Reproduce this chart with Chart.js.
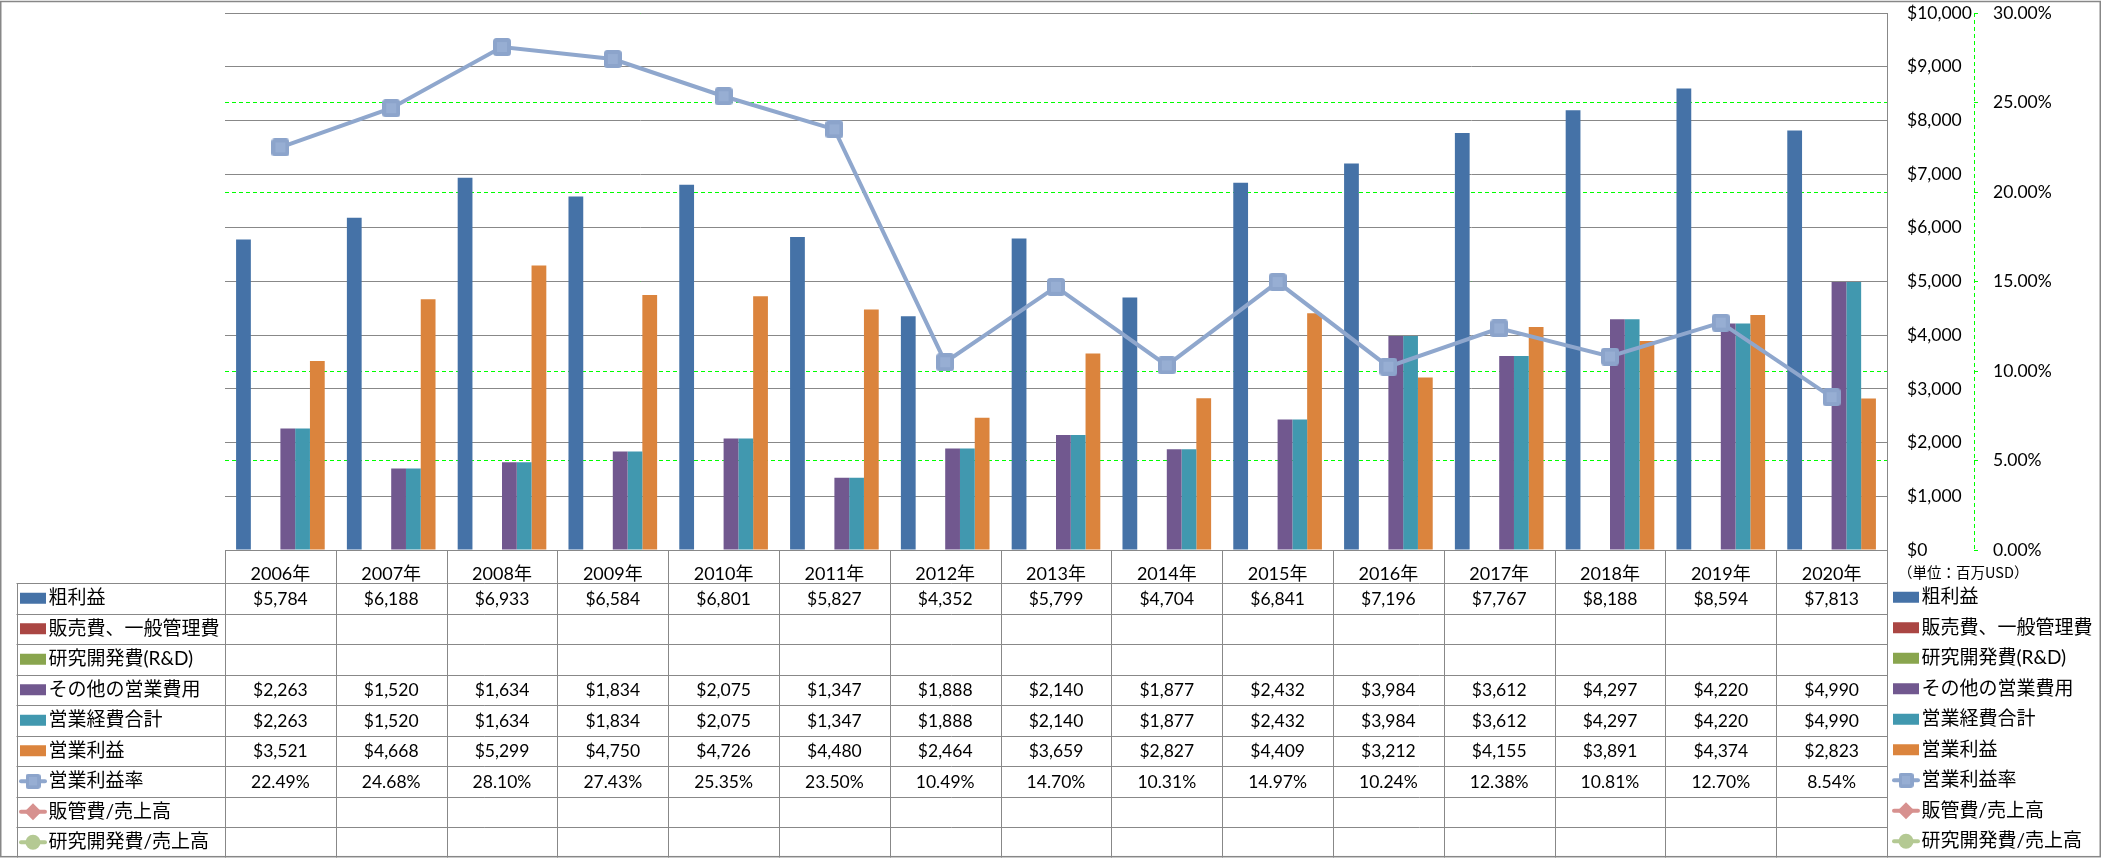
<!DOCTYPE html>
<html>
<head>
<meta charset="utf-8">
<script src="https://cdn.jsdelivr.net/npm/chart.js@4.4.1/dist/chart.umd.min.js"></script>
<style>
  html, body { margin: 0; padding: 0; background: #fff; }
  #wrap { width: 2101px; height: 858px; }
</style>
</head>
<body>
<div id="wrap"><canvas id="c" width="2101" height="858"></canvas></div>
<script>
// ---- data ----
const categories = ['2006年','2007年','2008年','2009年','2010年','2011年','2012年','2013年','2014年','2015年','2016年','2017年','2018年','2019年','2020年'];
const grossProfit = [5784, 6188, 6933, 6584, 6801, 5827, 4352, 5799, 4704, 6841, 7196, 7767, 8188, 8594, 7813];
const sgaExpense = [];
const rndExpense = [];
const otherOpex = [2263, 1520, 1634, 1834, 2075, 1347, 1888, 2140, 1877, 2432, 3984, 3612, 4297, 4220, 4990];
const totalOpex = [2263, 1520, 1634, 1834, 2075, 1347, 1888, 2140, 1877, 2432, 3984, 3612, 4297, 4220, 4990];
const operatingIncome = [3521, 4668, 5299, 4750, 4726, 4480, 2464, 3659, 2827, 4409, 3212, 4155, 3891, 4374, 2823];
const operatingMargin = [22.49, 24.68, 28.10, 27.43, 25.35, 23.50, 10.49, 14.70, 10.31, 14.97, 10.24, 12.38, 10.81, 12.70, 8.54];
const sgaRatio = [];
const rndRatio = [];
const seriesNames = ['粗利益','販売費、一般管理費','研究開発費(R&D)','その他の営業費用','営業経費合計','営業利益','営業利益率','販管費/売上高','研究開発費/売上高'];
const unitLabel = '（単位：百万USD）';

// ---- styles ----
const LATIN = 'Lato, "Noto Sans CJK JP", sans-serif';
const CJK = 'Lato, "Noto Sans CJK JP", sans-serif';
const GRID = '#888888';
const TARGET = { top: 13, bottom: 550, left: 225, right: 1887 };

function makeSquareMarker(size, fill, inner) {
  const c = document.createElement('canvas');
  c.width = size; c.height = size;
  const g = c.getContext('2d');
  const r = 3.5;
  g.fillStyle = fill;
  g.beginPath();
  g.moveTo(r, 0); g.lineTo(size - r, 0); g.quadraticCurveTo(size, 0, size, r);
  g.lineTo(size, size - r); g.quadraticCurveTo(size, size, size - r, size);
  g.lineTo(r, size); g.quadraticCurveTo(0, size, 0, size - r);
  g.lineTo(0, r); g.quadraticCurveTo(0, 0, r, 0);
  g.closePath(); g.fill();
  g.fillStyle = inner;
  g.fillRect(4, 4, size - 8, size - 8);
  return c;
}
const squareMarker = makeSquareMarker(18, '#8CA4CB', '#97AED3');

function pct(v) { return v.toFixed(2) + '%'; }
function usd(v) { return '$' + v.toLocaleString('en-US'); }

const barCommon = { type: 'bar', yAxisID: 'y', order: 1, categoryPercentage: 0.8, barPercentage: 1.0, borderWidth: 0 };
const datasets = [
  Object.assign({}, barCommon, { label: seriesNames[0], data: grossProfit, backgroundColor: '#4572A7', fmt: usd }),
  Object.assign({}, barCommon, { label: seriesNames[1], data: sgaExpense, backgroundColor: '#AA4643', fmt: usd }),
  Object.assign({}, barCommon, { label: seriesNames[2], data: rndExpense, backgroundColor: '#89A54E', fmt: usd }),
  Object.assign({}, barCommon, { label: seriesNames[3], data: otherOpex, backgroundColor: '#71588F', fmt: usd }),
  Object.assign({}, barCommon, { label: seriesNames[4], data: totalOpex, backgroundColor: '#4198AF', fmt: usd }),
  Object.assign({}, barCommon, { label: seriesNames[5], data: operatingIncome, backgroundColor: '#DB843D', fmt: usd }),
  { type: 'line', label: seriesNames[6], data: operatingMargin, yAxisID: 'y1', order: 0, borderColor: '#8FA7CD', backgroundColor: '#8FA7CD', borderWidth: 4, pointStyle: squareMarker, pointRadius: 9, tension: 0, fmt: pct, marker: 'square' },
  { type: 'line', label: seriesNames[7], data: sgaRatio, yAxisID: 'y1', order: 0, borderColor: '#D7918F', backgroundColor: '#D7918F', borderWidth: 4, pointStyle: 'rectRot', pointRadius: 9, fmt: pct, marker: 'diamond' },
  { type: 'line', label: seriesNames[8], data: rndRatio, yAxisID: 'y1', order: 0, borderColor: '#B4C993', backgroundColor: '#B4C993', borderWidth: 4, pointStyle: 'circle', pointRadius: 8, fmt: pct, marker: 'circle' }
];

function drawSymbol(ctx, ds, x0, x1, cy) {
  ctx.save();
  if (ds.type === 'bar') {
    ctx.fillStyle = ds.backgroundColor;
    ctx.fillRect(x0, cy - 5.5, x1 - x0, 11);
  } else {
    const cx = (x0 + x1) / 2;
    ctx.strokeStyle = ds.borderColor;
    ctx.lineWidth = 4;
    ctx.lineCap = 'round';
    ctx.beginPath(); ctx.moveTo(x0 + 1, cy); ctx.lineTo(x1 - 1, cy); ctx.stroke();
    ctx.fillStyle = ds.backgroundColor;
    if (ds.marker === 'square') {
      ctx.drawImage(squareMarker, cx - 7.5, cy - 7.5, 15, 15);
    } else if (ds.marker === 'diamond') {
      ctx.beginPath();
      ctx.moveTo(cx, cy - 8.5); ctx.lineTo(cx + 8.5, cy); ctx.lineTo(cx, cy + 8.5); ctx.lineTo(cx - 8.5, cy);
      ctx.closePath(); ctx.fill();
    } else {
      ctx.beginPath(); ctx.arc(cx, cy, 7.5, 0, Math.PI * 2); ctx.fill();
    }
  }
  ctx.restore();
}

const tablePlugin = {
  id: 'dataTable',
  beforeDraw(chart) {
    const ctx = chart.ctx;
    ctx.save(); ctx.fillStyle = '#fff'; ctx.fillRect(0, 0, chart.width, chart.height); ctx.restore();
  },
  afterDraw(chart) {
    const ctx = chart.ctx;
    const area = chart.chartArea;
    const n = categories.length;
    const colW = (area.right - area.left) / n;
    const top = area.bottom;
    const headerH = 33;
    const rowH = 30.5;
    const rowsTop = top + headerH;
    const labelLeft = 16.5;
    const dsList = chart.data.datasets;
    const bottom = rowsTop + rowH * dsList.length;
    const px = v => Math.round(v) + 0.5;

    ctx.save();
    ctx.strokeStyle = GRID;
    ctx.lineWidth = 1;
    ctx.beginPath();
    ctx.moveTo(area.left, px(top)); ctx.lineTo(area.right, px(top));
    for (let i = 0; i < dsList.length; i++) {
      const y = px(rowsTop + i * rowH);
      ctx.moveTo(labelLeft, y); ctx.lineTo(area.right, y);
    }
    ctx.moveTo(px(labelLeft), rowsTop); ctx.lineTo(px(labelLeft), bottom);
    for (let k = 0; k <= n; k++) {
      const x = px(area.left + k * colW);
      ctx.moveTo(x, top); ctx.lineTo(x, bottom);
    }
    ctx.stroke();

    // secondary axis dashed line
    const y1 = chart.scales.y1;
    ctx.strokeStyle = '#00FF00';
    ctx.setLineDash([4, 3]);
    ctx.beginPath();
    ctx.moveTo(px(y1.left), area.top); ctx.lineTo(px(y1.left), area.bottom);
    ctx.stroke();
    ctx.setLineDash([]);

    // table cells + right legend
    ctx.textBaseline = 'middle';
    dsList.forEach((ds, i) => {
      const cy = rowsTop + rowH * (i + 0.5);
      drawSymbol(ctx, ds, 20, 46, cy);
      ctx.fillStyle = '#000';
      ctx.textAlign = 'left';
      ctx.font = '19px ' + CJK;
      ctx.fillText(ds.label, 48.5, cy);
      ctx.textAlign = 'center';
      ctx.font = '17.5px ' + LATIN;
      ds.data.forEach((v, j) => {
        if (v === null || v === undefined) return;
        const cx = chart.scales.x.getPixelForValue(j);
        ctx.fillText(ds.fmt(v), cx, cy + 1);
      });
      drawSymbol(ctx, ds, 1893, 1919, cy - 1);
      ctx.fillStyle = '#000';
      ctx.textAlign = 'left';
      ctx.font = '19px ' + CJK;
      ctx.fillText(ds.label, 1921.5, cy - 1);
    });

    // unit label
    ctx.font = '14.5px "Noto Sans CJK JP", sans-serif';
    ctx.textAlign = 'left';
    ctx.fillText(unitLabel, 1898, top + 22);

    // outer border
    ctx.strokeStyle = '#878787';
    ctx.lineWidth = 1.5;
    ctx.strokeRect(0.75, 1.5, 2099.5, 855.2);
    ctx.restore();
  }
};

const chart = new Chart(document.getElementById('c'), {
  data: { labels: categories, datasets: datasets },
  options: {
    responsive: false,
    animation: false,
    devicePixelRatio: 1,
    events: [],
    layout: { padding: { left: 225, top: 13, right: 0, bottom: 275 } },
    plugins: { legend: { display: false }, tooltip: { enabled: false } },
    scales: {
      x: {
        position: 'bottom',
        offset: true,
        grid: { display: false },
        border: { display: false },
        ticks: { color: '#000', font: { family: LATIN, size: 18 }, padding: 5, maxRotation: 0, autoSkip: false },
        afterFit(s) { s.height = 33; }
      },
      y: {
        position: 'right',
        weight: 1,
        min: 0, max: 10000,
        ticks: { stepSize: 1000, color: '#000', font: { family: LATIN, size: 17.5 }, padding: 20, crossAlign: 'near', callback: v => '$' + Number(v).toLocaleString('en-US') },
        grid: { color: GRID, lineWidth: 1, drawTicks: false, z: -1 },
        border: { display: true, color: GRID, width: 1 },
        afterFit(s) { s.width = 87; s.paddingTop = 0; s.paddingBottom = 0; }
      },
      y1: {
        position: 'right',
        weight: 2,
        min: 0, max: 30,
        ticks: { stepSize: 5, color: '#000', font: { family: LATIN, size: 17.5 }, padding: 15, crossAlign: 'near', callback: v => Number(v).toFixed(2) + '%' },
        grid: { color: '#00FF00', lineWidth: 1, drawTicks: true, tickLength: 4, tickColor: '#00FF00', z: -2 },
        border: { display: false, dash: [4, 3] },
        afterFit(s) { s.width = 127; s.paddingTop = 0; s.paddingBottom = 0; }
      }
    }
  },
  plugins: [tablePlugin]
});

// align the plot area with the reference layout
for (let pass = 0; pass < 3; pass++) {
  const a = chart.chartArea;
  const p = chart.options.layout.padding;
  const dTop = a.top - TARGET.top, dBottom = a.bottom - TARGET.bottom;
  const dLeft = a.left - TARGET.left, dRight = a.right - TARGET.right;
  if (Math.abs(dTop) < 0.5 && Math.abs(dBottom) < 0.5 && Math.abs(dLeft) < 0.5 && Math.abs(dRight) < 0.5) break;
  p.top -= dTop; p.bottom += dBottom; p.left -= dLeft; p.right += dRight;
  chart.update();
}
</script>
</body>
</html>
